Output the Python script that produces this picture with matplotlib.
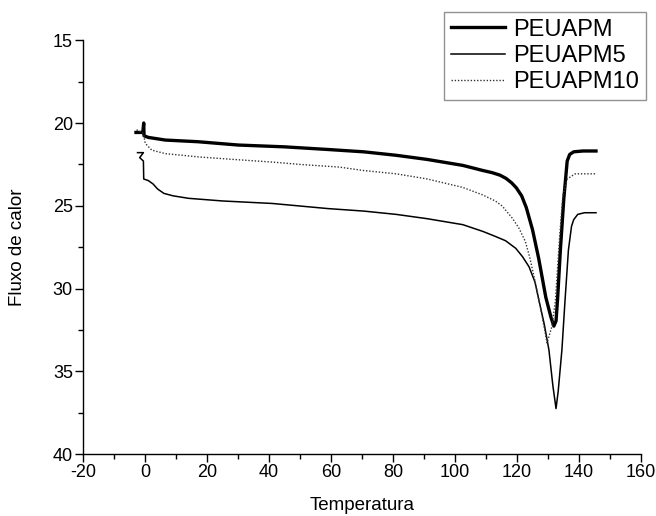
import matplotlib
matplotlib.use("Agg")
import matplotlib.pyplot as plt
from matplotlib.ticker import MultipleLocator

plt.rcParams['font.family'] = ['Liberation Sans', 'DejaVu Sans']
plt.rcParams['axes.unicode_minus'] = False

# =========================
# DATA
# =========================
labels = ["PEUAPM", "PEUAPM5", "PEUAPM10"]

x_peuapm = [-3, -0.8, -0.5, -0.4, 1, 6.5, 17, 30, 45, 59, 70.5, 81, 91, 102.5, 109, 112,
            114.5, 116.5, 118.3, 119.8, 121.5, 123, 125, 127, 129.3, 131, 131.9, 132.6,
            133.1, 134, 135.1, 136.2, 137, 138.3, 141.3, 145.5]
y_peuapm = [20.57, 20.57, 20.0, 20.77, 20.87, 21.03, 21.13, 21.33, 21.44, 21.6, 21.74,
            21.95, 22.2, 22.56, 22.87, 23.0, 23.15, 23.35, 23.62, 23.92, 24.4, 25.11,
            26.44, 28.18, 30.53, 31.76, 32.27, 31.96, 30.63, 27.67, 24.6, 22.3, 21.9,
            21.74, 21.69, 21.69]

x_peuapm5 = [-2.5, -0.6, -1.8, -0.6, -0.5, 1.0, 2.5, 4, 6, 9, 14, 25, 41, 59, 70.5, 81,
             91, 102.5, 109, 113, 116.3, 119.6, 121.8, 123.9, 125.8, 127.1, 128.8, 130.3,
             131.6, 132.6, 133.3, 134.5, 135.5, 136.6, 137.6, 138.3, 139.6, 141.8, 145.5]
y_peuapm5 = [21.79, 21.79, 22.09, 22.3, 23.38, 23.48, 23.68, 23.99, 24.25, 24.4, 24.55,
             24.71, 24.86, 25.17, 25.32, 25.52, 25.78, 26.14, 26.55, 26.85, 27.11, 27.57,
             28.08, 28.69, 29.61, 30.73, 32.16, 33.7, 35.9, 37.25, 36.2, 33.7, 30.73,
             27.67, 26.24, 25.84, 25.52, 25.42, 25.42]

x_peuapm10 = [-2.8, -0.6, 0, 2.1, 6.5, 17.3, 28.5, 41, 50.5, 62.5, 70.5, 81, 91, 102.5,
              109, 113, 115.2, 118.4, 120.6, 122.7, 124.2, 126, 127.8, 129.7, 131.3,
              132.4, 133.8, 134.8, 136.2, 138.8, 141.3, 145.5]
y_peuapm10 = [20.41, 20.62, 21.23, 21.64, 21.85, 22.05, 22.2, 22.36, 22.51, 22.66, 22.87,
              23.07, 23.38, 23.89, 24.35, 24.71, 25.01, 25.73, 26.34, 27.16, 28.18, 29.71,
              31.35, 33.29, 32.27, 30.73, 26.75, 24.4, 23.38, 23.07, 23.07, 23.07]

# =========================
# PLOT
# =========================
fig = plt.figure(figsize=(6.56, 5.16), dpi=100)
ax = fig.add_axes([0.127, 0.120, 0.850, 0.802])

h1, = ax.plot(x_peuapm, y_peuapm, color="black", linewidth=2.4, solid_joinstyle="round")
h2, = ax.plot(x_peuapm5, y_peuapm5, color="black", linewidth=1.1)
h3, = ax.plot(x_peuapm10, y_peuapm10, color="#333333", linewidth=1.0,
              linestyle=(0, (1, 1.3)))

ax.set_xlim(-20, 160)
ax.set_ylim(40, 15)
ax.xaxis.set_major_locator(MultipleLocator(20))
ax.xaxis.set_minor_locator(MultipleLocator(10))
ax.yaxis.set_major_locator(MultipleLocator(5))
ax.yaxis.set_minor_locator(MultipleLocator(2.5))

for side in ["top", "right"]:
    ax.spines[side].set_visible(False)
for side in ["left", "bottom"]:
    ax.spines[side].set_linewidth(1.0)

ax.tick_params(which="major", direction="out", length=5.5, width=1, labelsize=13, pad=2)
ax.tick_params(which="minor", direction="out", length=3.5, width=1)

ax.set_xlabel("Temperatura", fontsize=13.5, labelpad=11)
ax.set_ylabel("Fluxo de calor", fontsize=13.5, labelpad=19)

leg = fig.legend([h1, h2, h3], labels, loc="upper right",
                 bbox_to_anchor=(646 / 656, 1 - 12 / 516), fontsize=17,
                 frameon=True, fancybox=False, handlelength=2.3,
                 labelspacing=0.18, borderpad=0.28, handletextpad=0.35,
                 borderaxespad=0)
leg.get_frame().set_edgecolor("#777777")
leg.get_frame().set_linewidth(1.0)

fig.savefig("out.png", dpi=100)
